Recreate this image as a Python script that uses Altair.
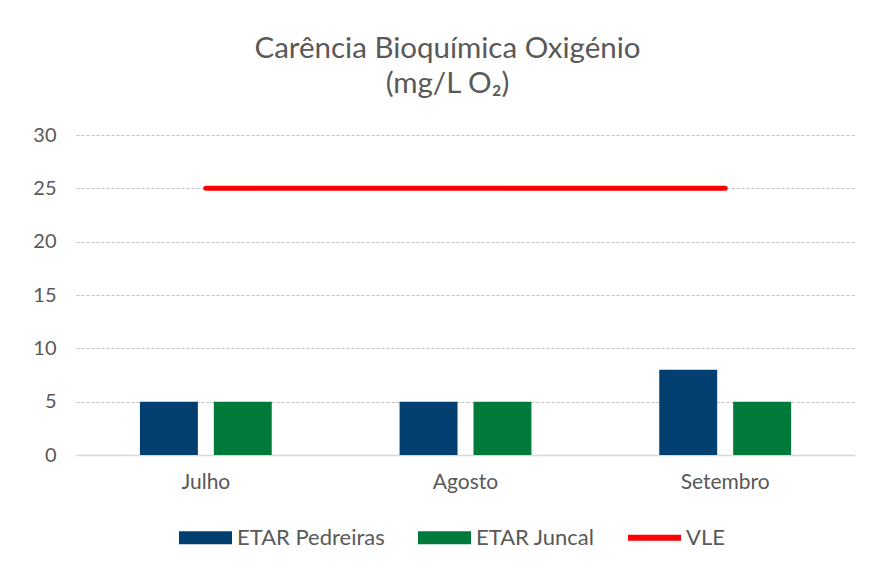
import altair as alt
import pandas as pd

months = ["Julho", "Agosto", "Setembro"]
series = ["ETAR Pedreiras", "ETAR Juncal", "VLE"]
pedreiras = [5, 5, 8]
juncal = [5, 5, 5]
vle = [25, 25, 25]
colors = ["#003F6F", "#007A3A", "#FF0000"]
y_ticks = [0, 5, 10, 15, 20, 25, 30]

FONT = "Lato"
TXT = "#595959"

bars_df = pd.DataFrame({
    "month": months * 2,
    "series": [series[0]] * 3 + [series[1]] * 3,
    "value": pedreiras + juncal,
})
vle_df = pd.DataFrame({"month": months, "series": series[2], "value": vle})
leg_df = pd.DataFrame({"month": months[0], "series": series, "value": -10})

rect_path = "M-1,-0.245H1V0.245H-1Z"
line_path = "M-1,-0.11H1V0.11H-1Z"

legend = alt.Legend(
    title=None, orient="none", direction="horizontal",
    legendX=103, legendY=376,
    labelFont=FONT, labelFontSize=22, labelColor=TXT,
    symbolSize=2809, symbolStrokeWidth=0, labelOffset=5,
    columnPadding=33, symbolOpacity=1,
)

color = alt.Color("series:N", sort=series,
                  scale=alt.Scale(domain=series, range=colors), legend=legend)
shape = alt.Shape("series:N", sort=series,
                  scale=alt.Scale(domain=series, range=[rect_path, rect_path, line_path]),
                  legend=legend)

x = alt.X("month:N", sort=months, title=None,
          scale=alt.Scale(paddingInner=0, paddingOuter=0),
          axis=alt.Axis(labelFont=FONT, labelFontSize=21, labelColor=TXT,
                        labelAngle=0, ticks=False, domainColor="#D9D9D9",
                        domainWidth=1.5, labelPadding=16, grid=False))
y = alt.Y("value:Q", title=None,
          scale=alt.Scale(domain=[0, 30], nice=False),
          axis=alt.Axis(values=y_ticks, labelFont=FONT, labelFontSize=20,
                        labelColor=TXT, domain=False, ticks=False,
                        labelPadding=20, gridColor="#BFBFBF", gridDash=[3, 2],
                        gridWidth=1))

bars = alt.Chart(bars_df).mark_bar().encode(
    x=x, y=y, color=color,
    xOffset=alt.XOffset("series:N", sort=series[:2],
                        scale=alt.Scale(domain=series[:2], paddingInner=0.216,
                                        paddingOuter=0.865)),
)

line = alt.Chart(vle_df).mark_line(strokeWidth=5, strokeCap="round").encode(
    x=x, y=y, color=color,
)

pts = alt.Chart(leg_df).mark_point(filled=True, clip=True).encode(
    x=x, y=y, color=color, shape=shape,
)

chart = alt.layer(bars, line, pts).properties(
    width=779, height=320,
    autosize=alt.AutoSizeParams(type="none"),
    padding={"left": 68, "top": 127, "right": 9, "bottom": 110},
    title=alt.Title(["Carência Bioquímica Oxigénio", "(mg/L O₂)"],
                    font=FONT, fontSize=29.5, fontWeight="normal", color=TXT,
                    anchor="middle", offset=26, lineHeight=35, dx=-18),
).configure(background="white").configure_view(stroke=None)

chart.save("out.html", embed_options={"renderer": "svg", "actions": False})
